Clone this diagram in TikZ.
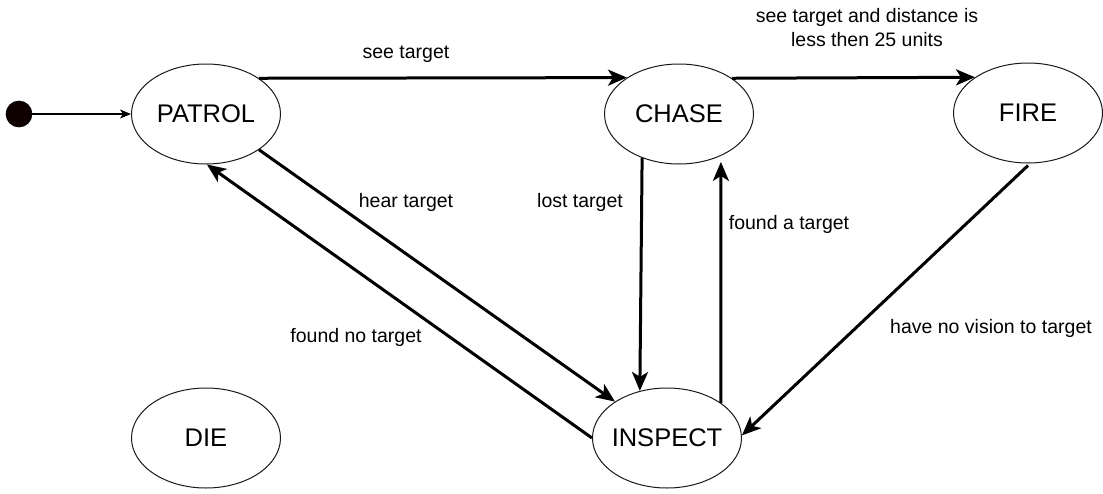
\documentclass[tikz,border=0pt]{standalone}
\usepackage{fontspec}
\setmainfont{Liberation Sans}
\usetikzlibrary{arrows.meta,shapes.geometric}

% state names are set in a zero-width box so every ellipse keeps the same size
\newcommand\stname[1]{\makebox[0pt]{#1}}

\tikzset{
  state/.style={ellipse, draw=black!90, line width=1pt, minimum width=149pt,
    minimum height=100pt, inner sep=0pt, font=\fontsize{25.5}{30}\selectfont},
  trans/.style={line width=3pt, -{Stealth[length=19pt,width=16pt,inset=5pt]}},
  lbl/.style={font=\fontsize{19.5}{24}\selectfont, align=center, inner sep=0pt},
  startdot/.style={circle, fill=black!90!red!60!black, draw=black, line width=0.6pt,
    minimum size=26pt, inner sep=0pt}
}

\begin{document}
\begin{tikzpicture}[x=1pt,y=-1pt]
  \useasboundingbox (0,0) rectangle (1103,493);

  % states
  \node[startdot] (init) at (19,114) {};
  \node[state] (patrol)  at (206,114) {\stname{PATROL}};
  \node[state] (chase)   at (679,114) {\stname{CHASE}};
  \node[state] (fire)    at (1028,113) {\stname{FIRE}};
  \node[state] (die)     at (206,438) {\stname{DIE}};
  \node[state] (inspect) at (667,438) {\stname{INSPECT}};

  % transitions
  \draw[line width=1.2pt, -{Stealth[length=11pt,width=9pt,inset=3pt]}] (init) -- (patrol.west);
  \draw[trans] (patrol.34.7) -- (chase.145.3);
  \draw[trans] (chase.34.2) -- (fire.146);
  \draw[trans] (patrol.-34.7) -- (inspect.145.3);
  \draw[trans] (inspect.180.5) -- (patrol.271.5);
  \draw[trans] (chase.230) -- (inspect.120);
  \draw[trans] (inspect.33.4) -- ([yshift=-6pt]chase.-45.5);
  \draw[trans] ([yshift=-2pt]fire.south) -- (inspect.2);

  % labels
  \node[lbl] (l1) at (406,54) {see target};
  \node[lbl] (l2) at (867,28) {see target and distance is\\less then 25 units};
  \node[lbl] (l3) at (406,202) {hear target};
  \node[lbl] (l4) at (580,202) {lost target};
  \node[lbl] (l5) at (789,224) {found a target};
  \node[lbl] (l6) at (356,337) {found no target};
  \node[lbl] (l7) at (991,328) {have no vision to target};
\end{tikzpicture}
\end{document}
